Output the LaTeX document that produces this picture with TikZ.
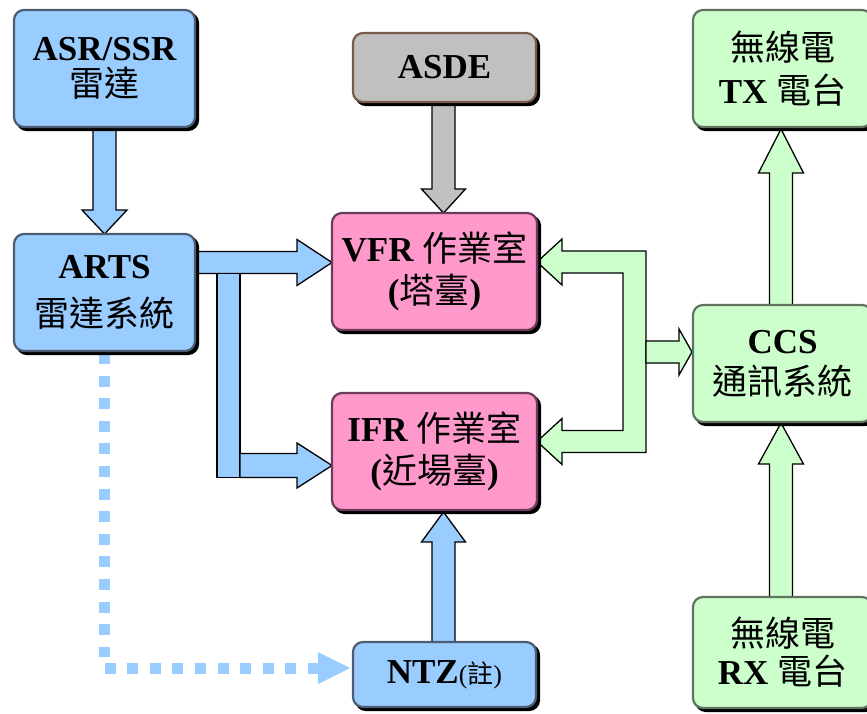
\documentclass[tikz,border=0pt]{standalone}
\usepackage{fontspec}
\setmainfont{Liberation Serif}
\newfontfamily\cjk{Noto Sans CJK TC}
\usetikzlibrary{calc,shadows,backgrounds}

\definecolor{skyfill}{HTML}{99CCFF}
\definecolor{skyedge}{HTML}{4C5C72}
\definecolor{rosefill}{HTML}{FF99CC}
\definecolor{roseedge}{HTML}{6B3B5B}
\definecolor{mintfill}{HTML}{CCFFCC}
\definecolor{mintedge}{HTML}{5F735F}
\definecolor{greyfill}{HTML}{C0C0C0}
\definecolor{greyedge}{HTML}{7B5C4C}

\tikzset{
  box/.style={rounded corners=10pt, line width=2.2pt, outer sep=0pt, inner sep=0pt,
    align=center, font=\fontsize{35}{36}\selectfont,
    general shadow={fill=black, draw=black, line width=2.2pt,
      shadow xshift=3pt, shadow yshift=-3pt}},
  skybox/.style={box, fill=skyfill, draw=skyedge},
  rosebox/.style={box, fill=rosefill, draw=roseedge},
  mintbox/.style={box, fill=mintfill, draw=mintedge},
  greybox/.style={box, fill=greyfill, draw=greyedge},
  blockarrow/.style={draw=black, line width=1.3pt, line join=miter},
  skyarrow/.style={blockarrow, fill=skyfill},
  mintarrow/.style={blockarrow, fill=mintfill},
  greyarrow/.style={blockarrow, fill=greyfill},
  dotline/.style={draw=skyfill, line width=11pt, line cap=butt,
    dash pattern=on 11pt off 11.6pt},
}

% vertical block arrow: style, tail, tip, shaft half width, head half width,
% signed offset of the head base from the tip (canvas sense)
\newcommand\blockv[6]{%
  \draw[#1] let \p1=(#2), \p2=(#3) in
    (\x2-#4pt,\y1) -- (\x2-#4pt,\y2+#6pt) -- (\x2-#5pt,\y2+#6pt) -- (\x2,\y2)
    -- (\x2+#5pt,\y2+#6pt) -- (\x2+#4pt,\y2+#6pt) -- (\x2+#4pt,\y1) -- cycle;}
% horizontal block arrow, same arguments
\newcommand\blockh[6]{%
  \draw[#1] let \p1=(#2), \p2=(#3) in
    (\x1,\y2+#4pt) -- (\x2+#6pt,\y2+#4pt) -- (\x2+#6pt,\y2+#5pt) -- (\x2,\y2)
    -- (\x2+#6pt,\y2-#5pt) -- (\x2+#6pt,\y2-#4pt) -- (\x1,\y2-#4pt) -- cycle;}

\begin{document}
\begin{tikzpicture}[x=1pt,y=-1pt]
\useasboundingbox (0,0) rectangle (867,714);

% boxes
\node[skybox, minimum width=181pt, minimum height=117pt] (asr) at (104.5,68.5)
  {{\bfseries ASR/SSR}\\{\cjk 雷達}};
\node[skybox, minimum width=181pt, minimum height=117pt] (arts) at (104.5,292.5)
  {{\bfseries ARTS}\\[12pt]{\cjk 雷達系統}};
\node[greybox, minimum width=183pt, minimum height=69pt] (asde) at (444.5,67.5)
  {\bfseries ASDE};
\node[rosebox, minimum width=205pt, minimum height=117pt] (vfr) at (434.5,271.5)
  {{\bfseries VFR} {\cjk 作業室}\\[6pt]{\bfseries(}{\cjk 塔臺}{\bfseries)}};
\node[rosebox, minimum width=205pt, minimum height=117pt] (ifr) at (434.5,451.5)
  {{\bfseries IFR} {\cjk 作業室}\\[6pt]{\bfseries(}{\cjk 近場臺}{\bfseries)}};
\node[skybox, minimum width=183pt, minimum height=65pt] (ntz) at (444.5,674.5)
  {{\bfseries NTZ}{\fontsize{26}{26}\selectfont(\cjk 註\rmfamily)}};
\node[mintbox, minimum width=179pt, minimum height=117pt] (tx) at (782.5,68.5)
  {{\cjk 無線電}\\[7pt]{\bfseries TX} {\cjk 電台}};
\node[mintbox, minimum width=179pt, minimum height=117pt] (ccs) at (782.5,363.5)
  {{\bfseries CCS}\\[5pt]{\cjk 通訊系統}};
\node[mintbox, minimum width=179pt, minimum height=111pt] (rx) at (782.5,652.5)
  {{\cjk 無線電}\\[2pt]{\bfseries RX} {\cjk 電台}};

% arrow end points on the boxes
\coordinate (vfrL) at ($(vfr.west)+(0,-9)$);
\coordinate (ifrL) at ($(ifr.west)+(0,14)$);
\coordinate (vfrR) at ($(vfr.east)+(0,-9.5)$);
\coordinate (ifrR) at ($(ifr.east)+(0,-10)$);
\coordinate (vfrT) at ($(vfr.north)+(9,0)$);
\coordinate (ifrB) at ($(ifr.south)+(9,2)$);
\coordinate (txB) at ($(tx.south)+(-1.5,2)$);
\coordinate (ccsB) at ($(ccs.south)+(-1.5,1)$);
\coordinate (ccsL) at ($(ccs.west)+(-1,-11.5)$);
\coordinate (ntzL) at ($(ntz.west)+(-3,-6.5)$);
\coordinate (dcorner) at (arts.south |- ntzL);

\begin{scope}[on background layer]
  % vertical links
  \blockv{skyarrow}{asr.south}{arts.north}{11.5}{22.5}{24}
  \blockv{greyarrow}{asde.south}{vfrT}{11.5}{22}{24}
  \blockv{skyarrow}{ntz.north}{ifrB}{11.5}{22}{-30}
  \blockv{mintarrow}{ccs.north}{txB}{11.5}{22.5}{-44}
  \blockv{mintarrow}{rx.north}{ccsB}{11.5}{22.5}{-41}

  % radar feed to both operating rooms
  \blockh{skyarrow}{arts.east}{vfrL}{11}{23}{-35}
  \draw[skyarrow] ($(vfrL)+(-115,11)$) -- ($(ifrL)+(-115,12)$)
    -- ($(ifrL)+(-92,12)$) -- ($(vfrL)+(-92,11)$);
  \blockh{skyarrow}{$(ifrL)+(-92,0)$}{ifrL}{12}{22.5}{-35}

  % communication links between both rooms and CCS
  \draw[mintarrow] (vfrR) -- ++(25,-23) -- ++(0,12) -- ++(84,0)
    -- ($(ifrR)+(109,11)$) -- ++(-84,0) -- ++(0,12) -- (ifrR)
    -- ++(25,-23) -- ++(0,12) -- ++(61,0)
    -- ($(vfrR)+(86,11)$) -- ++(-61,0) -- ++(0,12) -- cycle;
  \blockh{mintarrow}{$(ccsL)+(-46,0)$}{ccsL}{11}{23}{-13}

  % dotted feed from ARTS to NTZ
  \draw[dotline] ($(arts.south)+(0,2)$) -- ($(dcorner)+(0,-11.5)$);
  \draw[dotline] (dcorner) -- ($(ntzL)+(-31,0)$);
  \fill[skyfill] (ntzL) -- ++(-32,-16) -- ++(0,32) -- cycle;
\end{scope}
\end{tikzpicture}
\end{document}
